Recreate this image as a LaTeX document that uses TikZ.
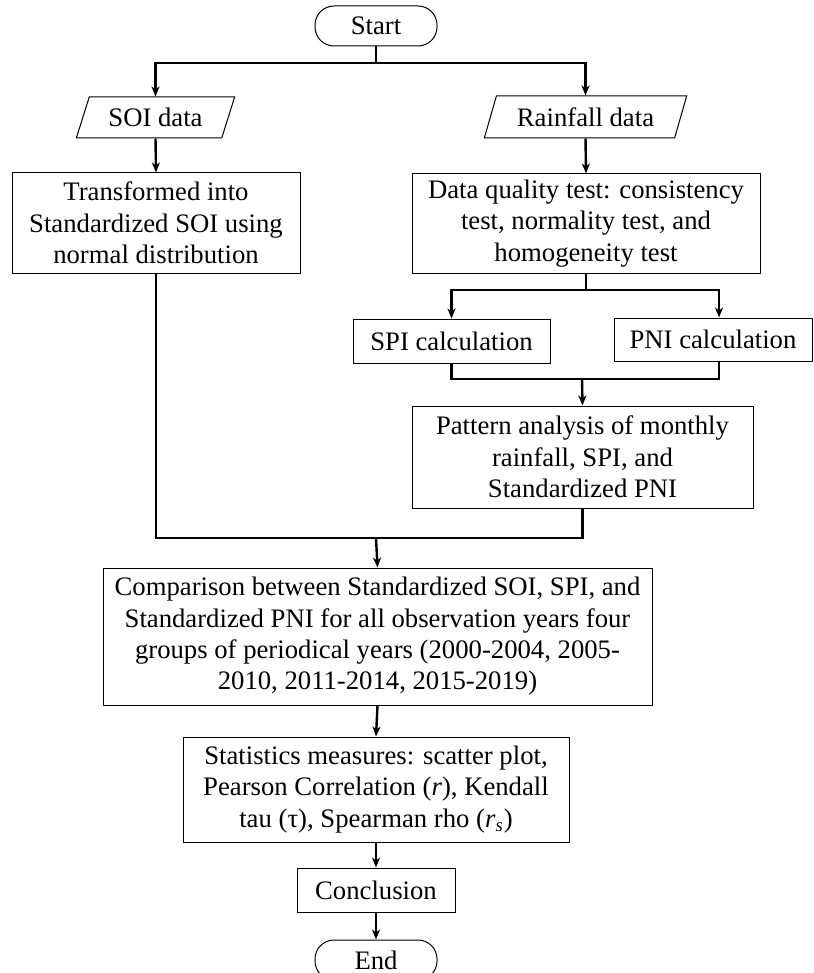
\documentclass[tikz,border=0pt]{standalone}
\usepackage{fontspec}
\setmainfont{Liberation Serif}
\usetikzlibrary{shapes.geometric,arrows.meta}

\begin{document}
\begin{tikzpicture}[x=0.5pt,y=-0.5pt,
    every node/.style={font=\fontsize{13.35pt}{15.65pt}\selectfont, inner sep=0pt, align=center},
    box/.style={draw, line width=0.5pt, rectangle},
    term/.style={draw, line width=0.5pt, rounded corners=9.5pt, minimum width=61pt, minimum height=20pt},
    io/.style={draw, line width=0.5pt, trapezium, trapezium left angle=64, trapezium right angle=116,
        trapezium stretches=true},
    line/.style={line width=1.2pt},
    arr/.style={line width=1.2pt, -{Stealth[length=5pt,width=4pt,inset=1.5pt]}}]
    \useasboundingbox (0,0) rectangle (813,973);

    % nodes
    \node[term] (start) at (376,26) {Start};
    \node[io, minimum width=79.5pt, minimum height=20.5pt] (soi) at (155.5,117.5) {SOI data};
    \node[io, minimum width=101.5pt, minimum height=21pt] (rain) at (585.5,117) {Rainfall data};
    \node[box, minimum width=144pt, minimum height=50pt] (trans) at (156,223)
        {Transformed into\\Standardized SOI using\\normal distribution};
    \node[box, minimum width=174pt, minimum height=49.5pt] (quality) at (586,223.5)
        {Data quality test: consistency\\test, normality test, and\\homogeneity test};
    \node[box, minimum width=98.5pt, minimum height=22pt] (spi) at (451.5,341) {SPI calculation};
    \node[box, minimum width=99pt, minimum height=21.5pt] (pni) at (713,339.5) {PNI calculation};
    \node[box, minimum width=170.5pt, minimum height=51pt] (pattern) at (582.5,457)
        {Pattern analysis of monthly\\rainfall, SPI, and\\Standardized PNI};
    \node[box, minimum width=274.5pt, minimum height=68.5pt] (comp) at (377.5,636.5)
        {Comparison between Standardized SOI, SPI, and\\Standardized PNI for all observation years four\\groups of periodical years (2000-2004, 2005-\\2010, 2011-2014, 2015-2019)};
    \node[box, minimum width=193pt, minimum height=52.5pt] (stats) at (376,789.5)
        {Statistics measures: scatter plot,\\Pearson Correlation (\textit{r}), Kendall\\tau (τ), Spearman rho (\textit{r}\textsubscript{\textit{s}})};
    \node[box, minimum width=79pt, minimum height=22pt] (concl) at (376,890) {Conclusion};
    \node[term] (end) at (376,960) {End};

    % junctions
    \coordinate (topbar) at (376,63);
    \coordinate (qbar) at (586,290);
    \coordinate (pbar) at (582,379);
    \coordinate (cbar) at (376,538);

    % connectors
    \draw[arr] (start.south) -- (topbar) -| (soi.north);
    \draw[arr] (start.south) -- (topbar) -| (rain.north);
    \draw[arr] (soi.south) -- (trans.north);
    \draw[arr] (rain.south) -- (quality.north);
    \draw[arr] (quality.south) -- (qbar) -| (spi.north);
    \draw[arr] (quality.south) -- (qbar) -| ([xshift=3pt]pni.north);
    \draw[line] (spi.south) |- (pbar);
    \draw[line] ([xshift=3pt]pni.south) |- (pbar);
    \draw[arr] (pbar) -- (pattern.north);
    \draw[line] (trans.south) |- (cbar);
    \draw[line] (pattern.south) |- (cbar);
    \draw[arr] (cbar) -- (comp.north);
    \draw[arr] (comp.south) -- (stats.north);
    \draw[arr] (stats.south) -- (concl.north);
    \draw[arr] (concl.south) -- (end.north);
\end{tikzpicture}
\end{document}
